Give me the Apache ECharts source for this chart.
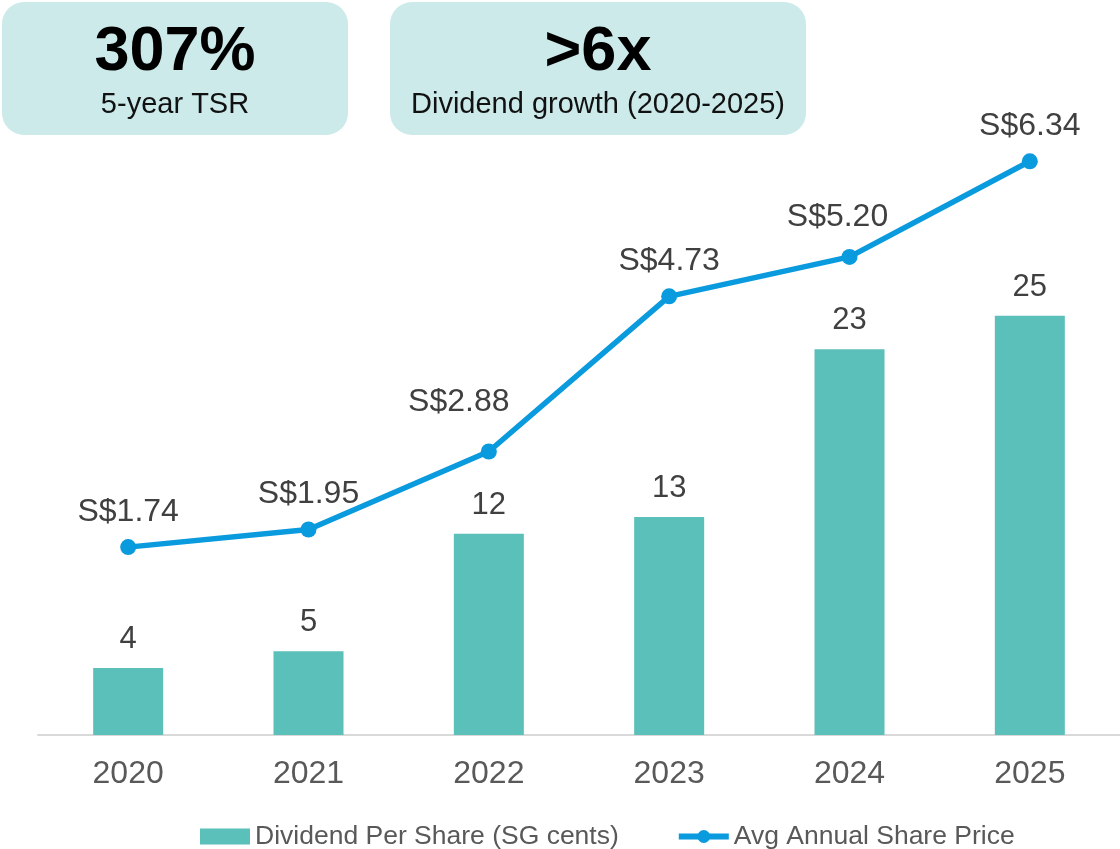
<!DOCTYPE html>
<html>
<head>
<meta charset="utf-8">
<title>Dividend and share price</title>
<script src="https://cdn.jsdelivr.net/npm/echarts@6.0.0/dist/echarts.min.js"></script>
<style>
  html, body { margin: 0; padding: 0; background: #fff; }
  #chart { width: 1120px; height: 849px; }
</style>
</head>
<body>
<div id="chart"></div>
<script>
// data
const years = ['2020', '2021', '2022', '2023', '2024', '2025'];
const dividendCents = [4, 5, 12, 13, 23, 25];
const sharePrice = [1.74, 1.95, 2.88, 4.73, 5.20, 6.34];
const highlights = [
  { big: '307%', small: '5-year TSR' },
  { big: '>6x', small: 'Dividend growth (2020-2025)' },
];

const font = '"Liberation Sans", Arial, sans-serif';
const barColor = '#5bbfba';
const lineColor = '#0a9ade';
const boxColor = '#cceaea';

// a couple of price labels were nudged by hand in the original
const priceLabelNudge = { 2: [-30, -14], 4: [-12, -5] };

// highlight boxes at the top
const boxes = [
  { x: 2, w: 346 },
  { x: 390, w: 416 },
];
const graphic = [];
boxes.forEach((b, i) => {
  const cx = b.x + b.w / 2;
  graphic.push({
    type: 'rect',
    shape: { x: b.x, y: 2, width: b.w, height: 133, r: 22 },
    style: { fill: boxColor },
    z: 0,
  });
  graphic.push({
    type: 'text',
    x: cx,
    y: 53,
    style: {
      text: highlights[i].big,
      font: 'bold 63px ' + font,
      fill: '#000',
      align: 'center',
      verticalAlign: 'middle',
    },
    z: 1,
  });
  graphic.push({
    type: 'text',
    x: cx,
    y: 105,
    style: {
      text: highlights[i].small,
      font: '29px ' + font,
      fill: '#111',
      align: 'center',
      verticalAlign: 'middle',
    },
    z: 1,
  });
});

const priceData = sharePrice.map((v, i) =>
  priceLabelNudge[i] ? { value: v, label: { offset: priceLabelNudge[i] } } : v
);

const chart = echarts.init(document.getElementById('chart'));
chart.setOption({
  animation: false,
  textStyle: { fontFamily: font },
  graphic: graphic,
  legend: {
    left: 195,
    top: 818,
    itemWidth: 50,
    itemHeight: 16,
    itemGap: 57,
    textStyle: { fontSize: 26.5, color: '#595959', fontFamily: font },
    data: [
      { name: 'Dividend Per Share (SG cents)', icon: 'rect' },
      { name: 'Avg Annual Share Price', lineStyle: { width: 6 } },
    ],
  },
  grid: {
    left: 38,
    right: 0,
    top: 64,
    bottom: 114,
  },
  xAxis: {
    type: 'category',
    data: years,
    axisLine: { lineStyle: { color: '#d9d9d9', width: 2 } },
    axisTick: { show: false },
    axisLabel: { fontSize: 32, color: '#595959', margin: 23 },
  },
  yAxis: [
    { type: 'value', min: 0, max: 40, show: false },
    { type: 'value', min: -0.5, max: 7.5, show: false },
  ],
  series: [
    {
      name: 'Dividend Per Share (SG cents)',
      type: 'bar',
      yAxisIndex: 0,
      barWidth: 70,
      data: dividendCents,
      itemStyle: { color: barColor },
      label: {
        show: true,
        position: 'top',
        distance: 13,
        fontSize: 31,
        color: '#404040',
      },
    },
    {
      name: 'Avg Annual Share Price',
      type: 'line',
      yAxisIndex: 1,
      data: priceData,
      symbol: 'circle',
      symbolSize: 16,
      lineStyle: { color: lineColor, width: 5.5 },
      itemStyle: { color: lineColor },
      label: {
        show: true,
        position: 'top',
        distance: 11,
        fontSize: 32,
        color: '#404040',
        formatter: (p) => 'S$' + Number(p.value).toFixed(2),
      },
    },
  ],
});
</script>
</body>
</html>
